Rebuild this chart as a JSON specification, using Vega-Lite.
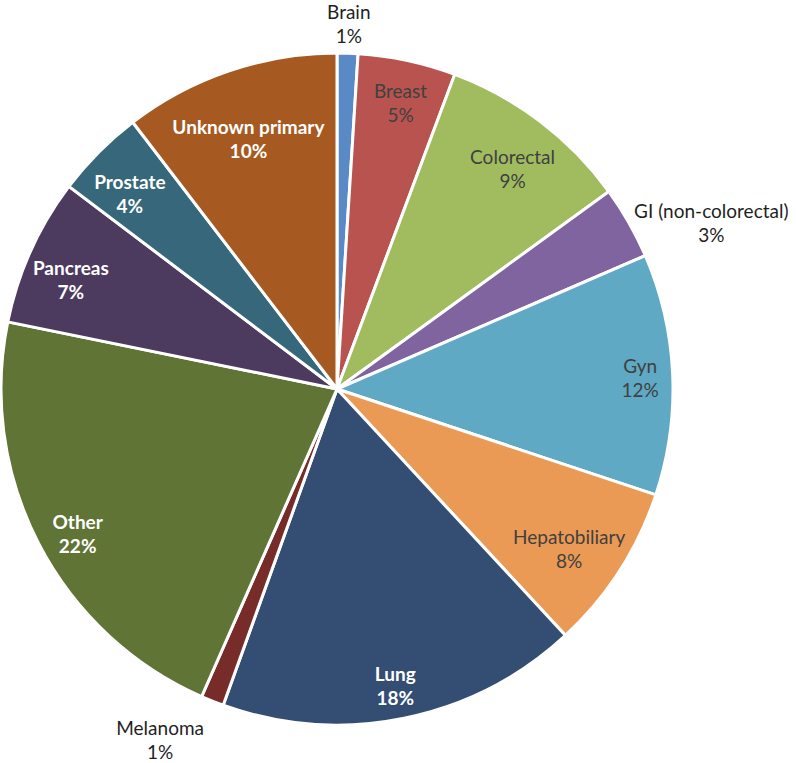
{
  "$schema": "https://vega.github.io/schema/vega-lite/v6.json",
  "autosize": "none",
  "width": 674,
  "height": 742,
  "padding": {"left": 0, "top": 18, "right": 122, "bottom": 3},
  "background": "white",
  "config": {"view": {"stroke": null}, "text": {"font": "Lato", "fontSize": 19, "lineBreak": "\n", "lineHeight": 24, "baseline": "middle", "align": "center"}},
  "data": {
    "values": [
      {"order": 1, "name": "Brain", "value": 1.0, "label": "Brain\n1%"},
      {"order": 2, "name": "Breast", "value": 4.7, "label": "Breast\n5%"},
      {"order": 3, "name": "Colorectal", "value": 9.3, "label": "Colorectal\n9%"},
      {"order": 4, "name": "GI (non-colorectal)", "value": 3.5, "label": "GI (non-colorectal)\n3%"},
      {"order": 5, "name": "Gyn", "value": 11.6, "label": "Gyn\n12%"},
      {"order": 6, "name": "Hepatobiliary", "value": 8.0, "label": "Hepatobiliary\n8%"},
      {"order": 7, "name": "Lung", "value": 17.4, "label": "Lung\n18%"},
      {"order": 8, "name": "Melanoma", "value": 1.1, "label": "Melanoma\n1%"},
      {"order": 9, "name": "Other", "value": 21.6, "label": "Other\n22%"},
      {"order": 10, "name": "Pancreas", "value": 7.1, "label": "Pancreas\n7%"},
      {"order": 11, "name": "Prostate", "value": 4.3, "label": "Prostate\n4%"},
      {"order": 12, "name": "Unknown primary", "value": 10.4, "label": "Unknown primary\n10%"}
    ]
  },
  "encoding": {
    "theta": {"field": "value", "type": "quantitative", "stack": true},
    "order": {"field": "order", "type": "quantitative"}
  },
  "layer": [
    {
      "mark": {"type": "arc", "outerRadius": 336, "stroke": "white", "strokeWidth": 3},
      "encoding": {
        "color": {
          "field": "name",
          "type": "nominal",
          "legend": null,
          "scale": {
            "domain": ["Brain", "Breast", "Colorectal", "GI (non-colorectal)", "Gyn", "Hepatobiliary", "Lung", "Melanoma", "Other", "Pancreas", "Prostate", "Unknown primary"],
            "range": ["#5A8AC6", "#B9534F", "#A0BC5F", "#7F64A0", "#5FA9C4", "#EB9A55", "#344D72", "#772C2A", "#5F7435", "#4C3A5F", "#36677A", "#A65A21"]
          }
        }
      }
    },
    {
      "mark": {"type": "text", "radius": 304, "color": "#404040"},
      "encoding": {
        "text": {"condition": {"test": "datum.name == 'Breast'", "field": "label"}, "value": ""}
      }
    },
    {
      "mark": {"type": "text", "radius": 304, "thetaOffset": -0.03, "color": "#404040"},
      "encoding": {
        "text": {"condition": {"test": "datum.name == 'Gyn'", "field": "label"}, "value": ""}
      }
    },
    {
      "mark": {"type": "text", "radius": 290, "color": "#404040"},
      "encoding": {
        "text": {"condition": {"test": "datum.name == 'Colorectal'", "field": "label"}, "value": ""}
      }
    },
    {
      "mark": {"type": "text", "radius": 276, "color": "#404040"},
      "encoding": {
        "text": {"condition": {"test": "datum.name == 'Hepatobiliary'", "field": "label"}, "value": ""}
      }
    },
    {
      "mark": {"type": "text", "radius": 292, "color": "white", "fontWeight": "bold"},
      "encoding": {
        "text": {"condition": {"test": "indexof(['Lung','Other','Pancreas','Prostate'], datum.name) >= 0", "field": "label"}, "value": ""}
      }
    },
    {
      "mark": {"type": "text", "radius": 276, "color": "white", "fontWeight": "bold"},
      "encoding": {
        "text": {"condition": {"test": "datum.name == 'Unknown primary'", "field": "label"}, "value": ""}
      }
    },
    {
      "mark": {"type": "text", "radius": 376, "color": "#1f1f1f"},
      "encoding": {
        "text": {"condition": {"test": "datum.name == 'Brain'", "field": "label"}, "value": ""}
      }
    },
    {
      "mark": {"type": "text", "radius": 414, "thetaOffset": 0.077, "color": "#1f1f1f"},
      "encoding": {
        "text": {"condition": {"test": "datum.name == 'GI (non-colorectal)'", "field": "label"}, "value": ""}
      }
    },
    {
      "mark": {"type": "text", "radius": 383, "thetaOffset": 0.1, "color": "#1f1f1f"},
      "encoding": {
        "text": {"condition": {"test": "datum.name == 'Melanoma'", "field": "label"}, "value": ""}
      }
    }
  ]
}
